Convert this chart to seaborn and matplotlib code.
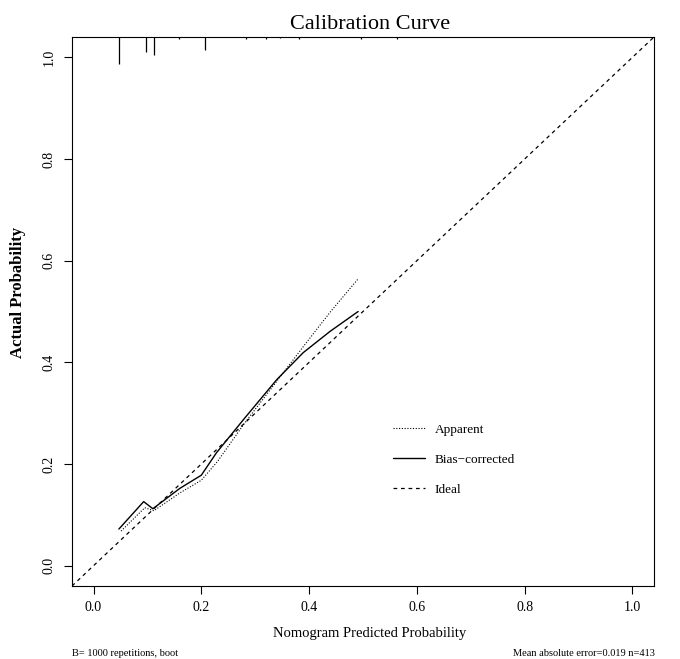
import matplotlib
matplotlib.use("Agg")
import matplotlib.pyplot as plt
import seaborn as sns
import pandas as pd

# ---- data ----
pred_bc = [0.047, 0.093, 0.110, 0.160, 0.200, 0.228, 0.281, 0.340, 0.389, 0.439, 0.491]
act_bc = [0.072, 0.126, 0.112, 0.152, 0.178, 0.222, 0.291, 0.366, 0.419, 0.461, 0.500]

pred_app = [0.051, 0.095, 0.112, 0.160, 0.200, 0.230, 0.280, 0.330, 0.390, 0.440, 0.490]
act_app = [0.068, 0.114, 0.108, 0.143, 0.168, 0.205, 0.280, 0.349, 0.432, 0.500, 0.563]

rug_x = [0.0465, 0.097, 0.112, 0.159, 0.206, 0.283, 0.320, 0.346, 0.382, 0.496, 0.563]
rug_len = [0.053, 0.030, 0.035, 0.004, 0.026, 0.004, 0.004, 0.002, 0.004, 0.004, 0.004]

ticks = [0.0, 0.2, 0.4, 0.6, 0.8, 1.0]
tick_labels = ["0.0", "0.2", "0.4", "0.6", "0.8", "1.0"]
lims = (-0.04, 1.04)

title = "Calibration Curve"
xlabel = "Nomogram Predicted Probability"
ylabel = "Actual Probability"
foot_left = "B= 1000 repetitions, boot"
foot_right = "Mean absolute error=0.019 n=413"

# ---- style ----
sns.set_theme(style="white")
plt.rcParams["font.family"] = ["Liberation Serif", "DejaVu Serif"]
plt.rcParams["text.color"] = "black"
plt.rcParams["axes.labelcolor"] = "black"
plt.rcParams["xtick.color"] = "black"
plt.rcParams["ytick.color"] = "black"

fig = plt.figure(figsize=(6.8, 6.59), dpi=100)
ax = fig.add_axes([72 / 680, 1 - 586 / 659, (654 - 72) / 680, (586 - 37) / 659])

df_app = pd.DataFrame({"x": pred_app, "y": act_app})
df_bc = pd.DataFrame({"x": pred_bc, "y": act_bc})

sns.lineplot(data=df_app, x="x", y="y", ax=ax, color="black", lw=0.8,
             linestyle=(0, (1, 1.5)), sort=False, label="Apparent", estimator=None)
sns.lineplot(data=df_bc, x="x", y="y", ax=ax, color="black", lw=1.0,
             linestyle="-", sort=False, label="Bias\u2212corrected", estimator=None)
ax.axline((0, 0), slope=1, color="black", lw=0.9, linestyle=(0, (3, 3)), label="Ideal")

# rug (top)
ax.vlines(rug_x, [lims[1] - l for l in rug_len], lims[1], color="black", lw=0.9)

ax.set_xlim(*lims)
ax.set_ylim(*lims)
ax.set_xticks(ticks)
ax.set_xticklabels(tick_labels)
ax.set_yticks(ticks)
ax.set_yticklabels(tick_labels)
ax.tick_params(axis="both", which="both", direction="out", length=6, width=0.8,
               colors="black", labelsize=10, left=True, bottom=True)
ax.tick_params(axis="x", pad=5)
ax.tick_params(axis="y", pad=6, labelrotation=90)
for lab in ax.get_yticklabels():
    lab.set_va("center")

for s in ax.spines.values():
    s.set_color("black")
    s.set_linewidth(0.8)

ax.set_title(title, fontsize=16, pad=6, x=0.512, color="black")
ax.set_xlabel(xlabel, fontsize=10.5)
ax.set_ylabel(ylabel, fontsize=12, fontweight="bold")
ax.xaxis.set_label_coords(0.512, -0.074)
ax.yaxis.set_label_coords(-0.079, 0.535)

leg = ax.legend(loc="upper left", bbox_to_anchor=(0.531, 0.318), frameon=False,
                fontsize=9.5, handlelength=2.4, handletextpad=0.75, labelspacing=1.35)
for t in leg.get_texts():
    t.set_color("black")

fig.text(72 / 680, 1 - 653 / 659, foot_left, fontsize=7.5, ha="left", va="center")
fig.text(655 / 680, 1 - 653 / 659, foot_right, fontsize=7.5, ha="right", va="center")

fig.savefig("out.png", dpi=100, facecolor="white")
